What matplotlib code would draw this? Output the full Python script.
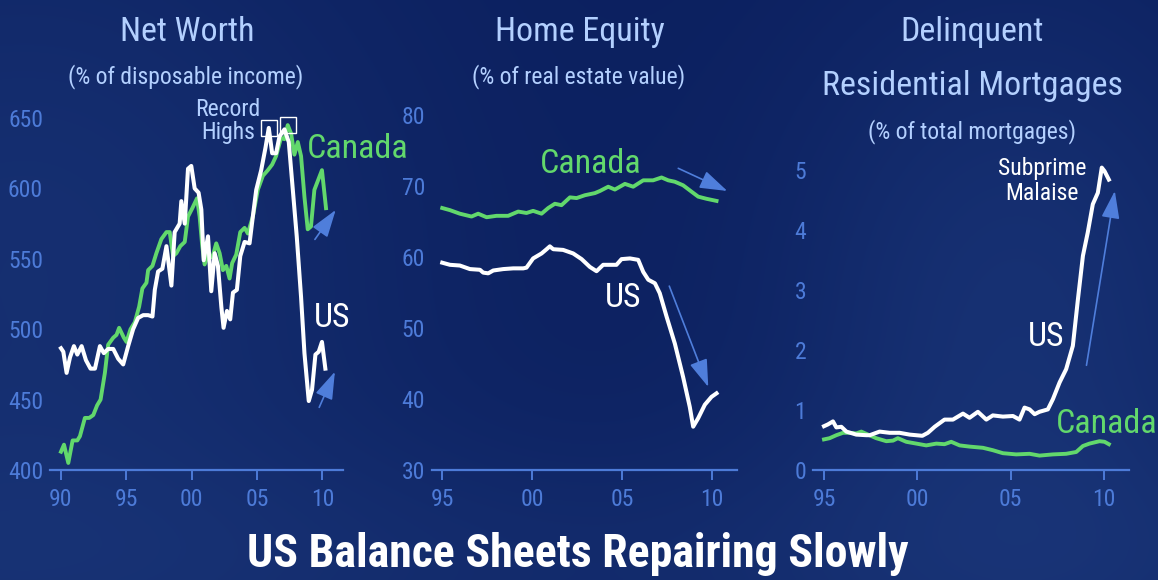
import matplotlib
matplotlib.use("Agg")
import matplotlib.pyplot as plt
import numpy as np
from matplotlib import font_manager as fm

# ---------------- data ----------------
nw_us_years = [1990.0, 1990.18, 1990.43, 1990.69, 1990.99, 1991.25, 1991.58, 1991.91, 1992.26, 1992.6,
               1992.98, 1993.28, 1993.61, 1994.0, 1994.38, 1994.76, 1995.14, 1995.52, 1995.9, 1996.29,
               1996.67, 1997.0, 1997.18, 1997.43, 1997.76, 1998.07, 1998.45, 1998.7, 1999.08, 1999.21,
               1999.47, 1999.72, 1999.97, 2000.23, 2000.53, 2000.74, 2000.92, 2001.25, 2001.5, 2001.76,
               2002.01, 2002.27, 2002.44, 2002.7, 2002.95, 2003.16, 2003.46, 2003.72, 2004.05, 2004.43,
               2004.68, 2004.94, 2005.32, 2005.65, 2005.9, 2006.16, 2006.46, 2006.72, 2007.1, 2007.43,
               2007.74, 2008.04, 2008.37, 2008.63, 2008.96, 2009.21, 2009.47, 2009.72, 2009.97, 2010.23]
nw_us = [486.5, 484, 469, 480, 488, 482, 488, 478, 472, 472,
         488, 483, 486, 486, 479, 475, 488, 500, 508, 510,
         510, 509, 528, 541, 543, 559, 531, 569, 575, 591,
         575, 614, 616, 600, 597, 585, 549, 566, 527, 554,
         545, 516, 501, 513, 507, 526, 528, 552, 562, 561,
         580, 599, 613, 629, 643, 625, 625, 637, 642, 633,
         599, 566, 523, 483, 449, 457, 482, 484, 491, 472]

nw_ca_years = [1990.0, 1990.23, 1990.56, 1990.89, 1991.25, 1991.45, 1991.83, 1992.16, 1992.47, 1992.77,
               1993.03, 1993.36, 1993.61, 1994.0, 1994.25, 1994.45, 1994.81, 1995.01, 1995.32, 1995.65,
               1995.98, 1996.23, 1996.54, 1996.67, 1997.0, 1997.3, 1997.68, 1998.07, 1998.32, 1998.58,
               1998.83, 1999.13, 1999.47, 1999.72, 2000.05, 2000.41, 2000.61, 2000.81, 2000.99, 2001.25,
               2001.58, 2001.88, 2002.14, 2002.39, 2002.65, 2002.9, 2003.1, 2003.41, 2003.72, 2004.05,
               2004.3, 2004.68, 2005.06, 2005.45, 2005.83, 2006.16, 2006.46, 2006.84, 2007.1, 2007.35,
               2007.61, 2007.86, 2008.12, 2008.37, 2008.63, 2008.88, 2009.13, 2009.39, 2009.72, 2009.97,
               2010.28]
nw_ca = [413, 418, 405, 421, 421, 424, 437, 437, 439, 446,
         450, 469, 489, 494, 496, 501, 494, 491, 500, 505,
         516, 529, 533, 542, 545, 554, 564, 569, 569, 552,
         554, 559, 562, 580, 586, 593, 580, 559, 546, 553,
         551, 561, 554, 542, 545, 536, 547, 553, 569, 572,
         568, 580, 599, 609, 613, 617, 623, 636, 635, 645,
         639, 624, 633, 623, 594, 571, 573, 599, 607, 613,
         586]

he_us_years = [1995.0, 1995.43, 1995.98, 1996.54, 1997.1, 1997.28, 1997.56, 1997.84, 1998.4, 1998.95,
               1999.51, 1999.69, 2000.06, 2000.53, 2000.81, 2000.99, 2001.18, 2001.73, 2002.29, 2002.76,
               2003.22, 2003.59, 2003.96, 2004.7, 2004.98, 2005.45, 2005.91, 2006.19, 2006.47, 2006.84,
               2007.11, 2007.49, 2007.95, 2008.41, 2008.78, 2008.97, 2009.25, 2009.62, 2009.99, 2010.27]
he_us = [59.2, 58.9, 58.8, 58.3, 58.2, 57.8, 57.7, 58.1, 58.3, 58.4,
         58.4, 58.5, 59.8, 60.5, 61.1, 61.5, 61.1, 61.0, 60.5, 59.7,
         58.6, 58.0, 58.9, 58.9, 59.7, 59.8, 59.6, 57.9, 56.8, 56.3,
         54.9, 51.6, 47.8, 43.1, 38.9, 36.1, 37.3, 39.2, 40.3, 40.8]

he_ca_years = [1995.0, 1995.43, 1995.98, 1996.63, 1997.0, 1997.47, 1998.02, 1998.67, 1999.23, 1999.69,
               2000.06, 2000.53, 2000.9, 2001.27, 2001.64, 2002.11, 2002.48, 2002.94, 2003.5, 2003.78,
               2004.24, 2004.61, 2005.17, 2005.63, 2006.19, 2006.74, 2007.21, 2007.58, 2007.95, 2008.41,
               2008.88, 2009.25, 2009.71, 2010.27]
he_ca = [66.9, 66.6, 66.1, 65.7, 66.1, 65.6, 65.8, 65.8, 66.4, 66.2,
         66.5, 66.1, 66.9, 67.5, 67.3, 68.4, 68.3, 68.7, 69.0, 69.3,
         69.9, 69.5, 70.3, 69.9, 70.8, 70.8, 71.2, 70.8, 70.6, 70.1,
         69.2, 68.5, 68.2, 67.9]

dm_us_years = [1995.0, 1995.21, 1995.48, 1995.66, 1995.93, 1996.2, 1996.73, 1997.27, 1997.45, 1997.98,
               1998.52, 1999.05, 1999.59, 2000.27, 2000.57, 2000.93, 2001.46, 2001.91, 2002.45, 2002.8,
               2003.25, 2003.7, 2004.05, 2004.59, 2005.13, 2005.48, 2005.75, 2006.02, 2006.29, 2006.55,
               2007.0, 2007.27, 2007.63, 2007.98, 2008.34, 2008.61, 2008.88, 2009.14, 2009.41, 2009.68,
               2009.89, 2010.04, 2010.27]
dm_us = [0.73, 0.76, 0.81, 0.71, 0.72, 0.64, 0.59, 0.58, 0.58, 0.64,
         0.62, 0.62, 0.59, 0.57, 0.62, 0.72, 0.84, 0.84, 0.94, 0.87,
         0.97, 0.84, 0.91, 0.89, 0.90, 0.84, 1.04, 1.01, 0.93, 0.97,
         1.01, 1.18, 1.46, 1.68, 2.07, 2.84, 3.57, 3.96, 4.43, 4.62,
         5.04, 4.98, 4.84]

dm_ca_years = [1995.0, 1995.3, 1995.66, 1996.02, 1996.38, 1996.73, 1997.0, 1997.36, 1997.8, 1998.34,
               1998.7, 1998.96, 1999.41, 1999.95, 2000.48, 2001.02, 2001.46, 2001.82, 2002.27, 2002.8,
               2003.52, 2004.05, 2004.59, 2005.3, 2006.02, 2006.55, 2007.27, 2007.98, 2008.52, 2008.88,
               2009.23, 2009.77, 2010.04, 2010.27]
dm_ca = [0.51, 0.53, 0.58, 0.62, 0.62, 0.61, 0.64, 0.59, 0.53, 0.48,
         0.49, 0.53, 0.47, 0.44, 0.41, 0.44, 0.43, 0.47, 0.41, 0.39,
         0.37, 0.33, 0.28, 0.26, 0.27, 0.24, 0.26, 0.27, 0.30, 0.40,
         0.44, 0.48, 0.47, 0.43]

x_ticks_nw = [1990, 1995, 2000, 2005, 2010]
x_ticks_95 = [1995, 2000, 2005, 2010]
x_ticklabels_nw = ["90", "95", "00", "05", "10"]
x_ticklabels_95 = ["95", "00", "05", "10"]
y_ticks_nw = [400, 450, 500, 550, 600, 650]
y_ticks_he = [30, 40, 50, 60, 70, 80]
y_ticks_dm = [0, 1, 2, 3, 4, 5]

# ---------------- fonts ----------------
entries = fm.fontManager.ttflist
names = {f.name for f in entries}
STRETCH = "normal"
if "Liberation Sans Narrow" in names:
    FONT = "Liberation Sans Narrow"
elif "Roboto Condensed" in names:
    FONT = "Roboto Condensed"
elif any(f.name == "DejaVu Sans" and "condensed" in str(f.stretch) for f in entries):
    FONT = "DejaVu Sans"
    STRETCH = "condensed"
else:
    FONT = "Roboto"
plt.rcParams["font.family"] = [FONT, "DejaVu Sans"]
plt.rcParams["font.stretch"] = STRETCH

# ---------------- colours ----------------
TITLE_C = "#b3d0ff"
TICK_C = "#4d7bd8"
GREEN = "#62d86c"
WHITE = "#ffffff"
ARROW_C = "#4f7edb"

W, H = 1158, 580
fig = plt.figure(figsize=(W / 100, H / 100), dpi=100)

# background gradient
bg = fig.add_axes([0, 0, 1, 1], zorder=-10)
yy, xx = np.mgrid[0:1:290j, 0:1:579j]
g = (0.55 * np.exp(-((xx - 0.02) / 0.35) ** 2 - ((yy - 0.45) / 0.7) ** 2)
     + 0.6 * np.exp(-((xx - 0.88) / 0.22) ** 2 - ((yy - 0.55) / 0.6) ** 2)
     + 0.35 * np.exp(-((yy - 1.0) / 0.25) ** 2))
g = np.clip(g, 0, 1)
dark = np.array([11, 31, 94]) / 255.0
light = np.array([30, 60, 128]) / 255.0
img = dark[None, None, :] * (1 - g[..., None]) + light[None, None, :] * g[..., None]
bg.imshow(img, aspect="auto", extent=[0, 1, 0, 1], interpolation="bicubic")
bg.set_axis_off()


def px_axes(x0, x1, y_bottom, y_top):
    return fig.add_axes([x0 / W, 1 - y_bottom / H, (x1 - x0) / W, (y_bottom - y_top) / H])


def style(ax, xticks, xlabels, yticks):
    ax.set_facecolor("none")
    for s in ["top", "right", "left"]:
        ax.spines[s].set_visible(False)
    ax.spines["bottom"].set_color(TICK_C)
    ax.spines["bottom"].set_linewidth(1.6)
    ax.set_xticks(xticks)
    ax.set_xticklabels(xlabels)
    ax.set_yticks(yticks)
    ax.tick_params(axis="x", direction="out", length=7, width=1.4, color=TICK_C,
                   labelcolor=TICK_C, labelsize=17, pad=6)
    ax.tick_params(axis="y", length=0, labelcolor=TICK_C, labelsize=17, pad=5)


arrow_kw = dict(arrowstyle="-|>,head_length=1.0,head_width=0.33", color=ARROW_C,
                lw=1.2, mutation_scale=17, shrinkA=0, shrinkB=0)
BIG = 24.5
lbl_big = dict(fontsize=BIG, ha="center", va="baseline")

# ---------------- Net Worth ----------------
ax1 = px_axes(50, 343, 470, 104)
ax1.plot(nw_ca_years, nw_ca, color=GREEN, lw=2.8, solid_joinstyle="round", zorder=3)
ax1.plot(nw_us_years, nw_us, color=WHITE, lw=2.9, solid_joinstyle="round", zorder=4)
ax1.set_xlim(1989.16, 2011.58)
ax1.set_ylim(400, 660)
style(ax1, x_ticks_nw, x_ticklabels_nw, y_ticks_nw)
i_us = int(np.argmax(nw_us))
i_ca = int(np.argmax(nw_ca))
ax1.plot([nw_us_years[i_us], nw_ca_years[i_ca]], [nw_us[i_us], nw_ca[i_ca]], ls="none",
         marker="s", ms=11, mfc="none", mec=WHITE, mew=1.0, zorder=5, clip_on=False)
ax1.text(2002.78, 647.9, "Record\nHighs", color=TITLE_C, fontsize=17, ha="center",
         va="center", linespacing=1.0)
ax1.text(2012.72, 621.6, "Canada", color=GREEN, clip_on=False, **lbl_big)
ax1.text(2010.71, 501.8, "US", color=WHITE, **lbl_big)
ax1.annotate("", xy=(2011.02, 584.7), xytext=(2009.43, 563.8), arrowprops=arrow_kw,
             annotation_clip=False)
ax1.annotate("", xy=(2010.96, 469.8), xytext=(2009.76, 444.5), arrowprops=arrow_kw,
             annotation_clip=False)

# ---------------- Home Equity ----------------
ax2 = px_axes(432, 737, 470, 104)
ax2.plot(he_ca_years, he_ca, color=GREEN, lw=2.8, solid_joinstyle="round", zorder=3)
ax2.plot(he_us_years, he_us, color=WHITE, lw=2.9, solid_joinstyle="round", zorder=4)
ax2.set_xlim(1994.43, 2011.41)
ax2.set_ylim(30, 81.55)
style(ax2, x_ticks_95, x_ticklabels_95, y_ticks_he)
ax2.text(2003.27, 71.79, "Canada", color=GREEN, **lbl_big)
ax2.text(2005.08, 53.0, "US", color=WHITE, **lbl_big)
ax2.annotate("", xy=(2010.87, 69.3), xytext=(2008.14, 72.49), arrowprops=arrow_kw,
             annotation_clip=False)
ax2.annotate("", xy=(2009.81, 41.7), xytext=(2007.64, 55.9), arrowprops=arrow_kw,
             annotation_clip=False)

# ---------------- Delinquent mortgages ----------------
ax3 = px_axes(813, 1129, 470, 104)
ax3.plot(dm_ca_years, dm_ca, color=GREEN, lw=2.8, solid_joinstyle="round", zorder=3)
ax3.plot(dm_us_years, dm_us, color=WHITE, lw=2.9, solid_joinstyle="round", zorder=4)
ax3.set_xlim(1994.41, 2011.35)
ax3.set_ylim(0, 6.1)
style(ax3, x_ticks_95, x_ticklabels_95, y_ticks_dm)
ax3.text(2006.70, 4.5, "Subprime\nMalaise", color=WHITE, fontsize=17, ha="center",
         va="baseline", linespacing=1.1)
ax3.text(2006.92, 2.07, "US", color=WHITE, **lbl_big)
ax3.text(2010.14, 0.62, "Canada", color=GREEN, **lbl_big)
ax3.annotate("", xy=(2010.59, 4.65), xytext=(2009.07, 1.745), arrowprops=arrow_kw,
             annotation_clip=False)

# ---------------- titles ----------------
def ftext(xp, yp, s, **kw):
    fig.text(xp / W, 1 - yp / H, s, ha="center", va="baseline", **kw)


ftext(187, 40.7, "Net Worth", color=TITLE_C, fontsize=BIG)
ftext(186, 83, "(% of disposable income)", color=TITLE_C, fontsize=17)
ftext(580, 40.7, "Home Equity", color=TITLE_C, fontsize=BIG)
ftext(579, 83, "(% of real estate value)", color=TITLE_C, fontsize=17)
ftext(972, 40.5, "Delinquent", color=TITLE_C, fontsize=BIG)
ftext(972, 94.5, "Residential Mortgages", color=TITLE_C, fontsize=BIG)
ftext(972, 138, "(% of total mortgages)", color=TITLE_C, fontsize=17)
ftext(578, 567, "US Balance Sheets Repairing Slowly", color=WHITE, fontsize=33,
      fontweight="bold")

fig.savefig("out.png", dpi=100)
